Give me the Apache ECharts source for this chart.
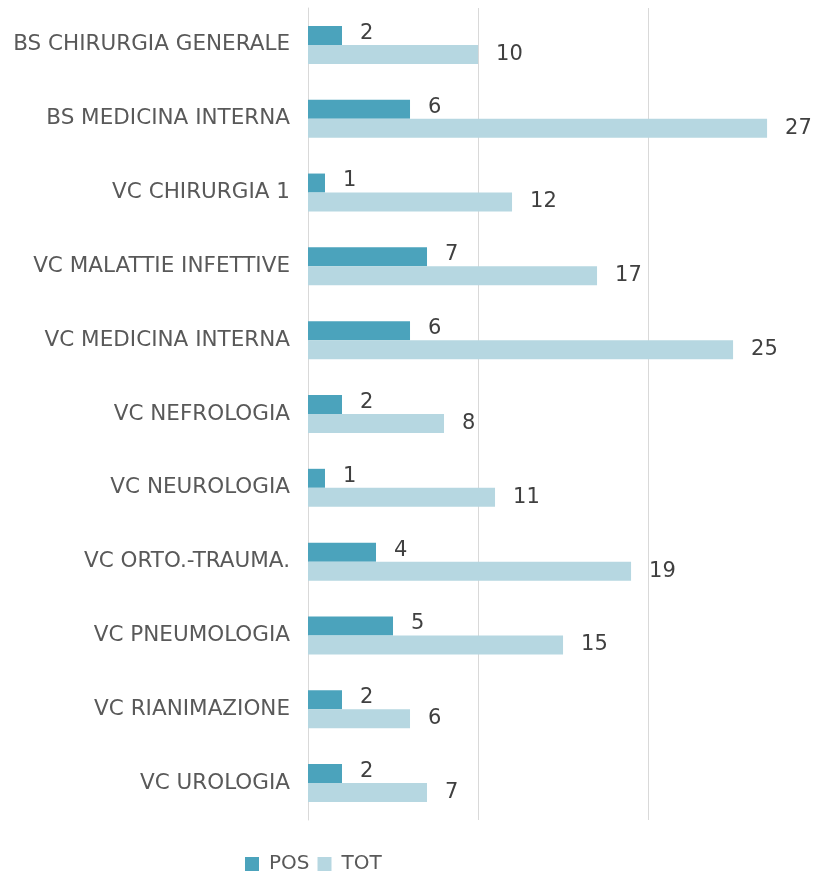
<!DOCTYPE html>
<html>
<head>
<meta charset="utf-8">
<script src="https://cdn.jsdelivr.net/npm/echarts@6/dist/echarts.min.js"></script>
<style>
  html, body { margin: 0; padding: 0; background: #fff; }
  #chart { width: 814px; height: 876px; }
</style>
</head>
<body>
<div id="chart"></div>
<script>
var categories = ['BS CHIRURGIA GENERALE', 'BS MEDICINA INTERNA', 'VC CHIRURGIA 1', 'VC MALATTIE INFETTIVE',
  'VC MEDICINA INTERNA', 'VC NEFROLOGIA', 'VC NEUROLOGIA', 'VC ORTO.-TRAUMA.', 'VC PNEUMOLOGIA',
  'VC RIANIMAZIONE', 'VC UROLOGIA'];
var posValues = [2, 6, 1, 7, 6, 2, 1, 4, 5, 2, 2];
var totValues = [10, 27, 12, 17, 25, 8, 11, 19, 15, 6, 7];

var font = 'DejaVu Sans';
var chart = echarts.init(document.getElementById('chart'), null, { renderer: 'canvas' });
chart.setOption({
  animation: false,
  textStyle: { fontFamily: font },
  legend: {
    data: ['POS', 'TOT'],
    top: 849,
    left: 240,
    itemWidth: 14,
    itemHeight: 14,
    itemGap: 8,
    icon: 'rect',
    textStyle: { color: '#595959', fontSize: 20, fontFamily: font, padding: [0, 0, 0, 5] }
  },
  grid: { left: 308, top: 8, right: 0, height: 812 },
  xAxis: {
    type: 'value',
    min: 0,
    max: 29.76,
    interval: 10,
    axisLabel: { show: false },
    axisLine: { show: false },
    axisTick: { show: false },
    splitLine: { lineStyle: { color: '#d9d9d9', width: 1 } }
  },
  yAxis: {
    type: 'category',
    inverse: true,
    data: categories,
    axisLine: { lineStyle: { color: '#d9d9d9' } },
    axisTick: { show: false },
    axisLabel: { color: '#595959', fontSize: 21.5, margin: 18, fontFamily: font }
  },
  series: [
    {
      name: 'POS',
      type: 'bar',
      data: posValues,
      barWidth: 19,
      barGap: '0%',
      itemStyle: { color: '#4ba3bc' },
      label: { show: true, position: 'right', distance: 18, offset: [0, -2], color: '#404040', fontSize: 21, fontFamily: font }
    },
    {
      name: 'TOT',
      type: 'bar',
      data: totValues,
      barWidth: 19,
      itemStyle: { color: '#b6d7e1' },
      label: { show: true, position: 'right', distance: 18, offset: [0, 0], color: '#404040', fontSize: 21, fontFamily: font }
    }
  ]
});
</script>
</body>
</html>
